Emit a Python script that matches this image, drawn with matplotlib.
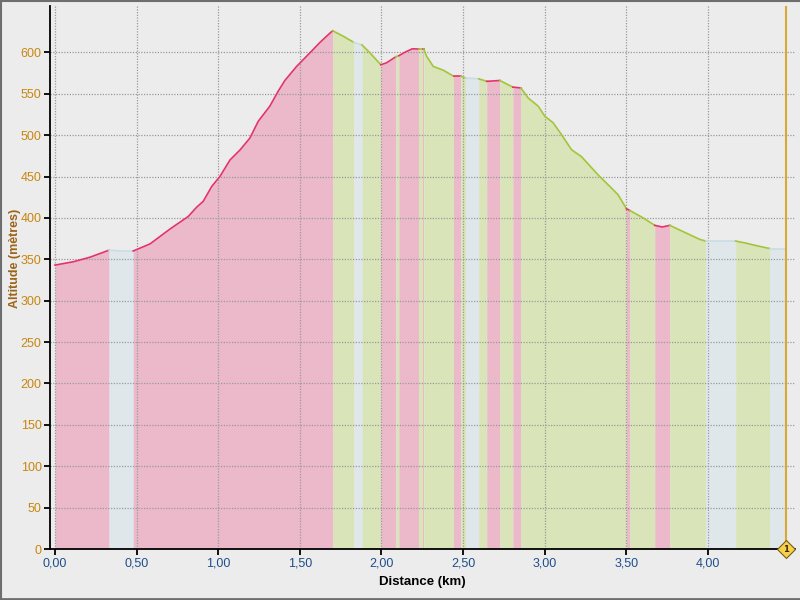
import numpy as np
import matplotlib
matplotlib.use("Agg")
import matplotlib.pyplot as plt
from matplotlib.ticker import FuncFormatter

# ---- data ----
distance_km = [0.000, 0.112, 0.214, 0.331, 0.400, 0.479, 0.582, 0.704, 0.816, 0.868,
               0.908, 0.960, 1.010, 1.072, 1.133, 1.194, 1.245, 1.316, 1.367, 1.408,
               1.480, 1.562, 1.623, 1.694, 1.702, 1.765, 1.831, 1.880, 1.929, 1.996,
               2.031, 2.088, 2.107, 2.149, 2.189, 2.229, 2.253, 2.259, 2.276, 2.317,
               2.378, 2.443, 2.486, 2.516, 2.596, 2.645, 2.725, 2.805, 2.854, 2.898,
               2.960, 3.000, 3.051, 3.103, 3.164, 3.225, 3.327, 3.409, 3.449, 3.501,
               3.521, 3.603, 3.674, 3.720, 3.766, 3.847, 3.950, 3.987, 4.170, 4.233,
               4.294, 4.378, 4.476]
altitude_m = [343, 347, 352.5, 361, 360, 360, 368.6, 386.5, 401.7, 413,
              420, 438, 450, 470, 482, 496.5, 516.7, 535, 553, 566,
              583, 599.5, 612, 625, 626, 619.6, 612, 609, 599.5, 585,
              587.4, 594.7, 596, 600.7, 604.3, 604, 604, 604, 595.4, 583,
              578.5, 571, 571, 569, 568, 565, 566, 558, 557, 545,
              535, 523, 515, 500.6, 482.4, 474, 452, 436, 428, 411,
              409, 400, 391, 389, 391, 383.5, 374, 372, 372, 369.5,
              366.6, 363, 363]

seg_start = [0.000, 0.331, 0.479, 1.702, 1.831, 1.880, 1.996, 2.088, 2.107, 2.229,
             2.253, 2.259, 2.443, 2.486, 2.516, 2.596, 2.645, 2.725, 2.805, 2.854,
             3.501, 3.521, 3.674, 3.766, 3.987, 4.170, 4.378]
seg_end = seg_start[1:] + [4.476]
seg_type = ["up", "flat", "up", "down", "flat", "down", "up", "down", "up", "down",
            "up", "down", "up", "down", "flat", "down", "up", "down", "up", "down",
            "up", "down", "up", "down", "flat", "down", "flat"]

y_ticks = list(range(0, 601, 50))
x_ticks = [0.0, 0.5, 1.0, 1.5, 2.0, 2.5, 3.0, 3.5, 4.0]
end_marker_km = 4.476

fill_colors = {"up": "#EBB9CA", "down": "#D9E4B9", "flat": "#DFE7EB"}
line_colors = {"up": "#E4336B", "down": "#A3C53A", "flat": "#C9DCE6"}

# ---- figure ----
bg = "#ECECEC"
fig = plt.figure(figsize=(8, 6), dpi=100, facecolor=bg)
ax = fig.add_axes([50 / 800, 1 - 549 / 600, 745 / 800, 543 / 600])
ax.set_facecolor(bg)

d = np.array(distance_km)
a = np.array(altitude_m)
for s, e, t in zip(seg_start, seg_end, seg_type):
    m = (d >= s - 1e-9) & (d <= e + 1e-9)
    ax.fill_between(d[m], 0, a[m], color=fill_colors[t], lw=0, zorder=1)
for s, e, t in zip(seg_start, seg_end, seg_type):
    m = (d >= s - 1e-9) & (d <= e + 1e-9)
    ax.plot(d[m], a[m], color=line_colors[t], lw=1.2, zorder=3,
            solid_joinstyle="round")

ax.set_xlim(-0.0306, 4.533)
ax.set_ylim(0, 656)
ax.set_yticks(y_ticks)
ax.set_xticks(x_ticks)
ax.xaxis.set_major_formatter(FuncFormatter(lambda v, p: f"{v:.2f}".replace(".", ",")))

ax.grid(True, color="#9A9A9A", linestyle=(0, (1, 1.2)), lw=0.9, zorder=2)
ax.set_axisbelow(False)

for sp in ["top", "right"]:
    ax.spines[sp].set_visible(False)
for sp in ["left", "bottom"]:
    ax.spines[sp].set_color("black")
    ax.spines[sp].set_linewidth(1.3)
    ax.spines[sp].set_zorder(5)

ax.tick_params(axis="both", direction="out", length=4, width=1.3, color="black",
               pad=2)
for lab in ax.get_yticklabels():
    lab.set_fontfamily("Liberation Sans")
    lab.set_fontsize(9)
    lab.set_color("#C8860E")
for lab in ax.get_xticklabels():
    lab.set_fontfamily("Liberation Sans")
    lab.set_fontsize(9)
    lab.set_color("#1E4E8A")

ax.set_ylabel("Altitude (mètres)", family="Liberation Sans", fontsize=9,
              fontweight="bold", color="#9C6418")
ax.yaxis.set_label_coords((15 - 50) / 745, (549 - 258) / 543)
ax.set_xlabel("Distance (km)", family="Liberation Sans", fontsize=9.5,
              fontweight="bold", color="black")
ax.xaxis.set_label_coords(0.5, (549 - 582) / 543)
ax.xaxis.label.set_va("center")
ax.yaxis.label.set_va("center")

# end marker
ax.axvline(end_marker_km, color="#D9A830", lw=1.5, zorder=4)
ax.plot([end_marker_km], [0], marker="D", markersize=9, markerfacecolor="#F5D24A",
        markeredgecolor="#7A5A18", markeredgewidth=0.8, clip_on=False, zorder=6)
ax.text(end_marker_km, 0, "1", fontsize=6, fontweight="bold", ha="center",
        va="center", color="#3A2A08", clip_on=False, zorder=7)

# outer frame
fig.add_artist(plt.Line2D([0.001, 0.001], [0, 1], color="#6E6E6E", lw=1.5,
                          transform=fig.transFigure))
fig.add_artist(plt.Line2D([0, 1], [0.999, 0.999], color="#6E6E6E", lw=1.5,
                          transform=fig.transFigure))
fig.add_artist(plt.Line2D([0, 1], [0.002, 0.002], color="#6E6E6E", lw=2,
                          transform=fig.transFigure))

fig.savefig("out.png", dpi=100, facecolor=bg)
